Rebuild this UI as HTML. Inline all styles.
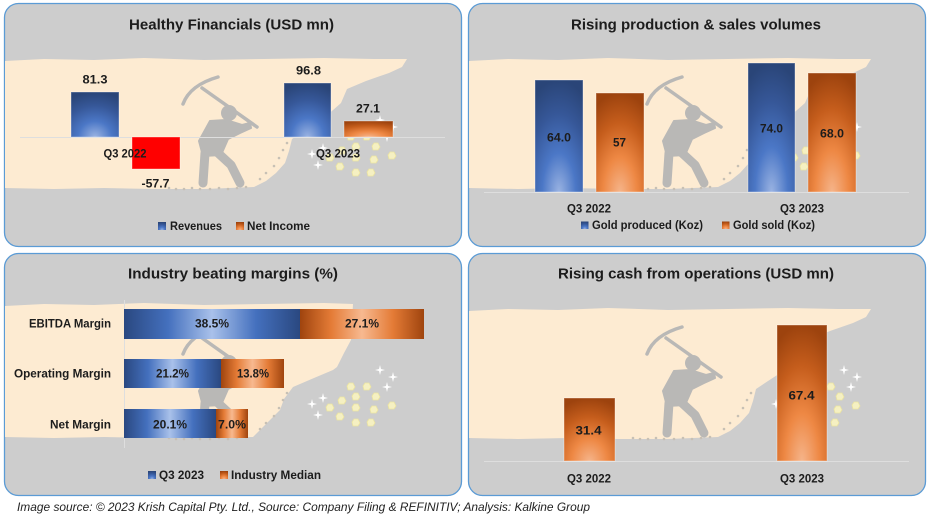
<!DOCTYPE html>
<html><head><meta charset="utf-8"><style>html,body{margin:0;padding:0;background:#fff;width:929px;height:519px;overflow:hidden}svg{display:block}</style></head>
<body>
<svg width="929" height="519" viewBox="0 0 929 519" xmlns="http://www.w3.org/2000/svg" xmlns:xlink="http://www.w3.org/1999/xlink" font-family="'Liberation Sans', Arial, sans-serif">
<defs>
  <radialGradient id="gb" cx="0.5" cy="1" r="1" fx="0.5" fy="1">
    <stop offset="0" stop-color="#9ab3e2"/><stop offset="0.35" stop-color="#4b77c6"/><stop offset="0.7" stop-color="#365798"/><stop offset="1" stop-color="#2a4578"/>
  </radialGradient>
  <radialGradient id="go" cx="0.5" cy="1" r="1" fx="0.5" fy="1">
    <stop offset="0" stop-color="#f5b48a"/><stop offset="0.35" stop-color="#ee8844"/><stop offset="0.7" stop-color="#c55d1c"/><stop offset="1" stop-color="#9d430e"/>
  </radialGradient>
  <linearGradient id="hb" x1="0" y1="0" x2="1" y2="0">
    <stop offset="0" stop-color="#2a4880"/><stop offset="0.25" stop-color="#4470be"/><stop offset="0.5" stop-color="#a9c1ea"/><stop offset="0.75" stop-color="#4470be"/><stop offset="1" stop-color="#2a4880"/>
  </linearGradient>
  <linearGradient id="ho" x1="0" y1="0" x2="1" y2="0">
    <stop offset="0" stop-color="#9f440e"/><stop offset="0.25" stop-color="#e47b36"/><stop offset="0.5" stop-color="#f7b990"/><stop offset="0.75" stop-color="#e47b36"/><stop offset="1" stop-color="#9f440e"/>
  </linearGradient>
  <path id="nug" d="M-4,-1 L-2,-4 L2,-4 L4,0 L2,3 L-3,3 Z" fill="#f5f0c2" stroke="#ece4a0" stroke-width="0.8"/>
  <path id="spk" d="M0,-5 L1,-1 L5,0 L1,1 L0,5 L-1,1 L-5,0 L-1,-1 Z" fill="#ffffff"/>
  <g id="miner" fill="#b9b8b6" stroke="#b9b8b6" stroke-linecap="round" stroke-linejoin="round">
    <path d="M179,101 Q186,82 214,74" fill="none" stroke-width="3.5"/>
    <line x1="198" y1="85" x2="253" y2="124" stroke-width="3.5"/>
    <circle cx="225" cy="110" r="8" stroke="none"/>
    <path d="M206,118 L222,117 L238,122 L246,120 L247,125 L236,130 L224,136 L217,152 L199,153 L195,138 Z" stroke-width="2"/>
    <path d="M201,150 L199,180 M214,150 L227,162 L236,180" fill="none" stroke-width="9"/>
  </g>
  <g id="deco">
    <g fill="#c7c0b5">
      <circle cx="165" cy="185" r="1.3"/><circle cx="172" cy="186" r="1.3"/><circle cx="180" cy="186" r="1.3"/><circle cx="188" cy="185" r="1.3"/><circle cx="196" cy="186" r="1.3"/><circle cx="206" cy="186" r="1.3"/><circle cx="215" cy="185" r="1.3"/><circle cx="224" cy="186" r="1.3"/><circle cx="233" cy="185" r="1.3"/><circle cx="242" cy="184" r="1.3"/><circle cx="256" cy="176" r="1.3"/><circle cx="262" cy="170" r="1.3"/><circle cx="270" cy="163" r="1.3"/><circle cx="275" cy="155" r="1.3"/><circle cx="279" cy="147" r="1.3"/><circle cx="283" cy="140" r="1.3"/>
    </g>
    <use xlink:href="#miner"/>
    <use xlink:href="#nug" x="363" y="134"/><use xlink:href="#nug" x="347" y="134"/><use xlink:href="#nug" x="352" y="144"/><use xlink:href="#nug" x="372" y="144"/><use xlink:href="#nug" x="338" y="148"/><use xlink:href="#nug" x="326" y="155"/><use xlink:href="#nug" x="352" y="155"/><use xlink:href="#nug" x="370" y="157"/><use xlink:href="#nug" x="388" y="153"/><use xlink:href="#nug" x="336" y="164"/><use xlink:href="#nug" x="352" y="170"/><use xlink:href="#nug" x="367" y="170"/>
    <use xlink:href="#spk" x="376" y="117"/><use xlink:href="#spk" x="389" y="124"/><use xlink:href="#spk" x="383" y="134"/><use xlink:href="#spk" x="319" y="145"/><use xlink:href="#spk" x="308" y="151"/><use xlink:href="#spk" x="314" y="162"/>
  </g>
  <g id="bgA">
    <path d="M1,58 L40,56 L90,57 L140,55 L200,57 L260,56 L320,55 L370,56 L403,56 L398,64 L385,70 L362,78 L343,86 L337,100 L320,115 L300,128 L288,136 L285,148 L281,160 L272,170 L262,178 L250,184 L200,186 L150,186 L100,185 L50,186 L1,185 Z" fill="#fdebd2"/>
    <use xlink:href="#deco"/>
  </g>
  <g id="bgB">
    <path d="M1,53 L40,51 L90,52 L140,50 L200,52 L260,51 L320,50 L349,51 L347,87 L340,100 L333,114 L329,117 L310,125 L289,134 L280,146 L276,157 L266,167 L249,184 L200,185 L150,185 L100,184 L50,185 L1,184 Z" fill="#fdebd2"/>
    <use xlink:href="#deco"/>
  </g>
</defs>

<!-- Panels -->
<rect x="4.5" y="3.5" width="457" height="243" rx="14" fill="#cdcdcd" stroke="#5b9bd5" stroke-width="1.3"/>
<rect x="468.5" y="3.5" width="457" height="243" rx="14" fill="#cdcdcd" stroke="#5b9bd5" stroke-width="1.3"/>
<rect x="4.5" y="253.5" width="457" height="242" rx="14" fill="#cdcdcd" stroke="#5b9bd5" stroke-width="1.3"/>
<rect x="468.5" y="253.5" width="457" height="242" rx="14" fill="#cdcdcd" stroke="#5b9bd5" stroke-width="1.3"/>

<use xlink:href="#bgA" transform="translate(4,3)"/>
<use xlink:href="#bgA" transform="translate(468,3)"/>
<use xlink:href="#bgB" transform="translate(4,253)"/>
<use xlink:href="#bgA" transform="translate(468,253)"/>

<g font-weight="bold" fill="#1c1c1c">
<!-- Panel 1 -->
<text x="231.5" y="29.5" font-size="15" text-anchor="middle" textLength="205" lengthAdjust="spacingAndGlyphs">Healthy Financials (USD mn)</text>
<line x1="20" y1="137.5" x2="445" y2="137.5" stroke="#dedede" stroke-width="1"/>
<rect x="71" y="92" width="48" height="45" fill="url(#gb)" stroke="#ffffff" stroke-opacity="0.35"/>
<rect x="132" y="137" width="48" height="32" fill="#ff0000" stroke="#ffffff" stroke-opacity="0.35"/>
<rect x="284" y="83" width="47" height="54" fill="url(#gb)" stroke="#ffffff" stroke-opacity="0.35"/>
<rect x="344" y="121" width="49" height="16" fill="url(#go)" stroke="#ffffff" stroke-opacity="0.35"/>
<text x="95" y="83.4" font-size="12" text-anchor="middle" textLength="25" lengthAdjust="spacingAndGlyphs">81.3</text>
<text x="155.5" y="187.4" font-size="12" text-anchor="middle" textLength="28" lengthAdjust="spacingAndGlyphs">-57.7</text>
<text x="308.5" y="74.4" font-size="12" text-anchor="middle" textLength="25" lengthAdjust="spacingAndGlyphs">96.8</text>
<text x="368" y="112.4" font-size="12" text-anchor="middle" textLength="24" lengthAdjust="spacingAndGlyphs">27.1</text>
<text x="125" y="157.4" font-size="12" text-anchor="middle" textLength="43" lengthAdjust="spacingAndGlyphs">Q3 2022</text>
<text x="338" y="157.4" font-size="12" text-anchor="middle" textLength="44" lengthAdjust="spacingAndGlyphs">Q3 2023</text>
<rect x="158" y="222" width="8" height="8" fill="url(#gb)"/>
<text x="170" y="230.2" font-size="11.5" textLength="52" lengthAdjust="spacingAndGlyphs">Revenues</text>
<rect x="236" y="222" width="8" height="8" fill="url(#go)"/>
<text x="247" y="230.2" font-size="11.5" textLength="63" lengthAdjust="spacingAndGlyphs">Net Income</text>

<!-- Panel 2 -->
<text x="696" y="29.5" font-size="15" text-anchor="middle" textLength="250" lengthAdjust="spacingAndGlyphs">Rising production &amp; sales volumes</text>
<line x1="484" y1="192.5" x2="909" y2="192.5" stroke="#dedede" stroke-width="1"/>
<rect x="535" y="80" width="48" height="112" fill="url(#gb)" stroke="#ffffff" stroke-opacity="0.35"/>
<rect x="596" y="93" width="48" height="99" fill="url(#go)" stroke="#ffffff" stroke-opacity="0.35"/>
<rect x="748" y="63" width="47" height="129" fill="url(#gb)" stroke="#ffffff" stroke-opacity="0.35"/>
<rect x="808" y="73" width="48" height="119" fill="url(#go)" stroke="#ffffff" stroke-opacity="0.35"/>
<text x="559" y="141.4" font-size="12" text-anchor="middle" textLength="24" lengthAdjust="spacingAndGlyphs">64.0</text>
<text x="619.5" y="146.4" font-size="12" text-anchor="middle" textLength="13" lengthAdjust="spacingAndGlyphs">57</text>
<text x="771.5" y="132.4" font-size="12" text-anchor="middle" textLength="23" lengthAdjust="spacingAndGlyphs">74.0</text>
<text x="832" y="137.4" font-size="12" text-anchor="middle" textLength="24" lengthAdjust="spacingAndGlyphs">68.0</text>
<text x="589" y="212.4" font-size="12" text-anchor="middle" textLength="44" lengthAdjust="spacingAndGlyphs">Q3 2022</text>
<text x="802" y="212.4" font-size="12" text-anchor="middle" textLength="44" lengthAdjust="spacingAndGlyphs">Q3 2023</text>
<rect x="581" y="221.5" width="7.5" height="7.5" fill="url(#gb)"/>
<text x="592" y="229.2" font-size="11.5" textLength="111" lengthAdjust="spacingAndGlyphs">Gold produced (Koz)</text>
<rect x="722" y="221.5" width="7.5" height="7.5" fill="url(#go)"/>
<text x="733" y="229.2" font-size="11.5" textLength="82" lengthAdjust="spacingAndGlyphs">Gold sold (Koz)</text>

<!-- Panel 3 -->
<text x="233" y="278.5" font-size="15" text-anchor="middle" textLength="210" lengthAdjust="spacingAndGlyphs">Industry beating margins (%)</text>
<line x1="124.5" y1="300" x2="124.5" y2="448" stroke="#dedede" stroke-width="1"/>
<rect x="124" y="309" width="176" height="30" fill="url(#hb)"/>
<rect x="300" y="309" width="124" height="30" fill="url(#ho)"/>
<rect x="124" y="359" width="97" height="29" fill="url(#hb)"/>
<rect x="221" y="359" width="63" height="29" fill="url(#ho)"/>
<rect x="124" y="409" width="92" height="29" fill="url(#hb)"/>
<rect x="216" y="409" width="32" height="29" fill="url(#ho)"/>
<text x="111" y="327.4" font-size="12" text-anchor="end" textLength="82" lengthAdjust="spacingAndGlyphs">EBITDA Margin</text>
<text x="111" y="377.4" font-size="12" text-anchor="end" textLength="97" lengthAdjust="spacingAndGlyphs">Operating Margin</text>
<text x="111" y="428.4" font-size="12" text-anchor="end" textLength="61" lengthAdjust="spacingAndGlyphs">Net Margin</text>
<text x="212" y="327.4" font-size="12" text-anchor="middle" textLength="34" lengthAdjust="spacingAndGlyphs">38.5%</text>
<text x="362" y="327.4" font-size="12" text-anchor="middle" textLength="34" lengthAdjust="spacingAndGlyphs">27.1%</text>
<text x="172.5" y="377.4" font-size="12" text-anchor="middle" textLength="33" lengthAdjust="spacingAndGlyphs">21.2%</text>
<text x="253" y="377.4" font-size="12" text-anchor="middle" textLength="32" lengthAdjust="spacingAndGlyphs">13.8%</text>
<text x="170" y="428.4" font-size="12" text-anchor="middle" textLength="34" lengthAdjust="spacingAndGlyphs">20.1%</text>
<text x="232" y="428.4" font-size="12" text-anchor="middle" textLength="28" lengthAdjust="spacingAndGlyphs">7.0%</text>
<rect x="148" y="471" width="8" height="8" fill="url(#gb)"/>
<text x="159" y="479.2" font-size="11.5" textLength="45" lengthAdjust="spacingAndGlyphs">Q3 2023</text>
<rect x="220" y="471" width="8" height="8" fill="url(#go)"/>
<text x="231" y="479.2" font-size="11.5" textLength="90" lengthAdjust="spacingAndGlyphs">Industry Median</text>

<!-- Panel 4 -->
<text x="696" y="278.5" font-size="15" text-anchor="middle" textLength="276" lengthAdjust="spacingAndGlyphs">Rising cash from operations (USD mn)</text>
<line x1="484" y1="461.5" x2="909" y2="461.5" stroke="#dedede" stroke-width="1"/>
<rect x="564" y="398" width="51" height="63" fill="url(#go)" stroke="#ffffff" stroke-opacity="0.35"/>
<rect x="777" y="325" width="50" height="136" fill="url(#go)" stroke="#ffffff" stroke-opacity="0.35"/>
<text x="588.5" y="434.4" font-size="12" text-anchor="middle" textLength="26" lengthAdjust="spacingAndGlyphs">31.4</text>
<text x="801.5" y="399.4" font-size="12" text-anchor="middle" textLength="26" lengthAdjust="spacingAndGlyphs">67.4</text>
<text x="589" y="482.4" font-size="12" text-anchor="middle" textLength="44" lengthAdjust="spacingAndGlyphs">Q3 2022</text>
<text x="802" y="482.4" font-size="12" text-anchor="middle" textLength="44" lengthAdjust="spacingAndGlyphs">Q3 2023</text>
</g>

<!-- Footer -->
<text x="17" y="511" font-size="11.5" font-style="italic" fill="#222222" textLength="573" lengthAdjust="spacingAndGlyphs">Image source: © 2023 Krish Capital Pty. Ltd., Source: Company Filing &amp; REFINITIV; Analysis: Kalkine Group</text>
</svg>
</body></html>
